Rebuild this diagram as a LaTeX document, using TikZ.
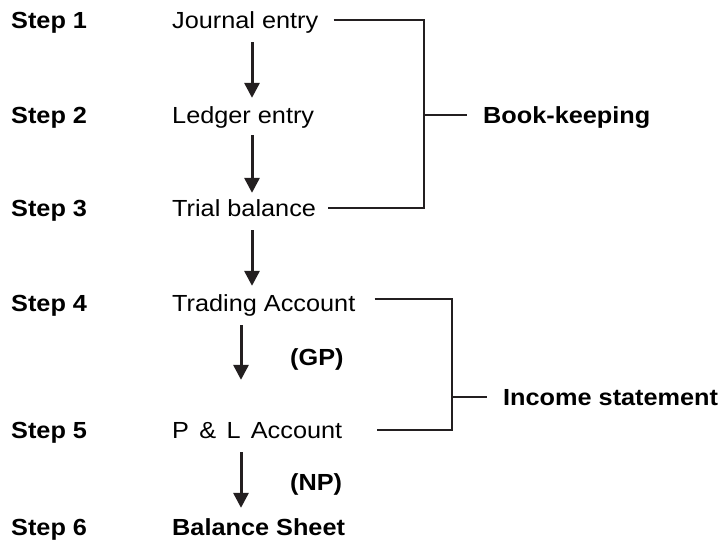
\documentclass[tikz,border=0pt]{standalone}
\usepackage{fontspec}
\setmainfont{Liberation Sans}[FakeStretch=1.085]
\usetikzlibrary{arrows.meta}
\definecolor{ink}{HTML}{231F20}
\begin{document}
\begin{tikzpicture}[x=1pt,y=-1pt,
  lbl/.style={inner sep=0pt, text height=16.7pt, text depth=0pt, anchor=west,
              font=\fontsize{23.3pt}{28pt}\selectfont},
  lblb/.style={lbl, font=\fontsize{23.3pt}{28pt}\selectfont\bfseries},
  arr/.style={draw=ink, line width=3pt, -{Triangle[width=15pt,length=15pt]}},
  br/.style={draw=ink, line width=2.2pt}]
\useasboundingbox (0,0) rectangle (724,539);
% step labels
\node[lblb] (s1) at (11,20) {Step 1};
\node[lblb] (s2) at (11,115) {Step 2};
\node[lblb] (s3) at (11,208) {Step 3};
\node[lblb] (s4) at (11,303) {Step 4};
\node[lblb] (s5) at (11,430) {Step 5};
\node[lblb] (s6) at (11,527) {Step 6};
% main column
\node[lbl] (j) at (172,20) {Journal entry};
\node[lbl] (l) at (172,115) {Ledger entry};
\node[lbl] (t) at (172,208) {Trial balance};
\node[lbl] (ta) at (172,303) {Trading Account};
\node[lbl] (pl) at (172,430) {\spaceskip=10.3pt P \& L Account};
\node[lblb] (bs) at (172,527) {Balance Sheet};
\node[lblb] (gp) at (290,357) {(GP)};
\node[lblb] (np) at (290,482) {(NP)};
\node[lblb] (bk) at (483,115) {Book-keeping};
\node[lblb] (is) at (503,397) {Income statement};
% helper columns
\coordinate (ax1) at (252,0);
\coordinate (ax2) at (241,0);
\coordinate (bx1) at (424,0);
\coordinate (bx2) at (452,0);
% arrows
\draw[arr, shorten <=13.6pt, shorten >=8.6pt] (j.south -| ax1) -- (l.north -| ax1);
\draw[arr, shorten <=11.6pt, shorten >=6.6pt] (l.south -| ax1) -- (t.north -| ax1);
\draw[arr, shorten <=13.6pt, shorten >=8.6pt] (t.south -| ax1) -- (ta.north -| ax1);
\draw[arr, shorten <=13.6pt, shorten >=41.6pt] (ta.south -| ax2) -- (pl.north -| ax2);
\draw[arr, shorten <=13.6pt, shorten >=10.6pt] (pl.south -| ax2) -- (bs.north -| ax2);
% brackets
\draw[br] ([xshift=15pt]j.east) -| (bx1 |- t.east) -- ([xshift=12pt]t.east);
\draw[br] (bx1 |- bk.west) -- ([xshift=-16pt]bk.west);
\draw[br] ([xshift=19pt,yshift=4pt]ta.east) -| (bx2 |- pl.east) -- ([xshift=35pt]pl.east);
\draw[br] (bx2 |- is.west) -- ([xshift=-16pt]is.west);
\end{tikzpicture}
\end{document}
